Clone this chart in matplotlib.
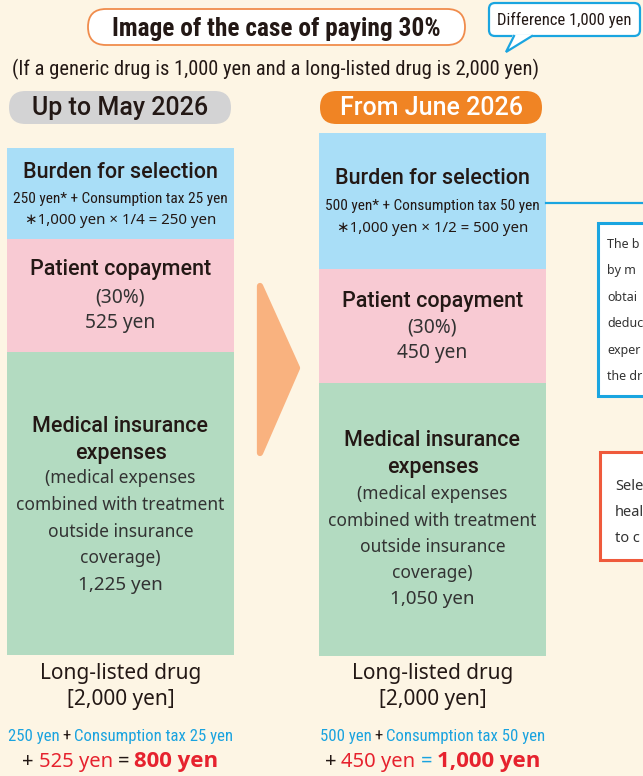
import os
import matplotlib
matplotlib.use('Agg')
import matplotlib.pyplot as plt
from matplotlib.patches import FancyBboxPatch, Rectangle, Polygon
from matplotlib import font_manager as fm

# ---------------- data ----------------
periods = ['Up to May 2026', 'From June 2026']
selection_fee = [250, 500]
consumption_tax = [25, 50]
copayment = [525, 450]
insurance = [1225, 1050]
fraction_labels = ['1/4', '1/2']
generic_price = 1000
long_listed_price = 2000
patient_total = [800, 1000]
copay_rate = 30
difference = 1000
note_blue = ['The b', 'by m', 'obtai', 'deduc', 'exper', 'the dr']
note_red = ['Sele', 'heal', 'to c']

# ---------------- style ----------------
BG = '#FDF5E4'
C_BLUE = '#A9DEF7'
C_PINK = '#F8CAD3'
C_GREEN = '#B3DBC1'
C_ARROW = '#F9B27F'
C_ORANGE = '#F08424'
C_GREY = '#D3D3D4'
C_LINE = '#1AA5E0'
C_TBLUE = '#1AA3DF'
C_RED = '#E6222E'
C_DARK = '#231815'
C_TXT = '#333333'


def font_file(fam, weight='normal'):
    try:
        return fm.findfont(fm.FontProperties(family=fam, weight=weight), fallback_to_default=False)
    except Exception:
        return None


def pick(cands, weight='normal', keys=None):
    for c in cands:
        f = font_file(c, weight)
        if f is None:
            continue
        if keys is None or any(k in os.path.basename(f).lower() for k in keys):
            return c
    return None


def pick_narrow():
    for c in ['Liberation Sans Narrow', 'Roboto Condensed', 'Open Sans Condensed']:
        f = font_file(c)
        if f and ('narrow' in f.lower() or 'condensed' in f.lower()):
            return c
    return 'Liberation Sans Narrow'


NARROW = [pick_narrow(), 'DejaVu Sans']
SANS = [pick(['Noto Sans', 'Open Sans', 'Lato', 'Roboto']) or 'DejaVu Sans', 'DejaVu Sans']
BOLD = [pick(['Noto Sans', 'Open Sans', 'Lato', 'Roboto', 'Inter'], 'bold', ['bold']) or 'DejaVu Sans',
        'DejaVu Sans']
_med = pick(['Noto Sans', 'Open Sans', 'Roboto', 'Inter', 'Lato'], 'medium', ['medium', 'semibold'])
if _med:
    MED, MED_W = [_med, 'DejaVu Sans'], 'medium'
else:
    MED, MED_W = BOLD, 'bold'

fig = plt.figure(figsize=(6.43, 7.76), dpi=100, facecolor=BG)
ax = fig.add_axes([0, 0, 1, 1])
ax.set_xlim(0, 643)
ax.set_ylim(776, 0)
ax.axis('off')
ax.set_facecolor(BG)


def fmt(v):
    return f'{v:,}'


# ---------------- header ----------------
ax.add_patch(FancyBboxPatch((88, 9), 377, 36, boxstyle='round,pad=0,rounding_size=18',
                            fc='white', ec='#F08C4C', lw=1.3))
ax.text(276, 29, f'Image of the case of paying {copay_rate}%', ha='center', va='center',
        family=NARROW, fontsize=18.3, weight='bold', color=C_DARK)

# callout
ax.add_patch(FancyBboxPatch((489, 3), 151, 33, boxstyle='round,pad=0,rounding_size=6',
                            fc='white', ec=C_LINE, lw=1.6))
ax.add_patch(Polygon([(513, 34.5), (534, 34.5), (506, 52)], closed=True, fc='white', ec='none'))
ax.plot([514, 506, 532], [36, 52, 36], color=C_LINE, lw=1.6, solid_joinstyle='miter')
ax.text(564, 19.5, f'Difference {fmt(difference)} yen', ha='center', va='center',
        family=NARROW, fontsize=12, color=C_DARK)

ax.text(276, 69, f'(If a generic drug is {fmt(generic_price)} yen and a long-listed drug is '
        f'{fmt(long_listed_price)} yen)', ha='center', va='center', family=NARROW,
        fontsize=14.8, color=C_DARK)

# period pills
pill_x = [9, 320]
pill_fc = [C_GREY, C_ORANGE]
pill_tc = [C_DARK, 'white']
for i in range(2):
    ax.add_patch(FancyBboxPatch((pill_x[i], 91), 222, 33, boxstyle='round,pad=0,rounding_size=16.5',
                                fc=pill_fc[i], ec='none'))
    ax.text(pill_x[i] + 111, 108, periods[i], ha='center', va='center', family=MED,
            weight=MED_W, fontsize=18, color=pill_tc[i])

# ---------------- stacked bars ----------------
bar_cx = [120.5, 432.5]
bar_w = 227
seg_edges = [[148, 239, 352, 655], [133, 269, 383, 656]]
seg_colors = [C_BLUE, C_PINK, C_GREEN]
for i in range(2):
    e = seg_edges[i]
    for k in range(3):
        ax.bar(bar_cx[i], e[k + 1] - e[k], bottom=e[k], width=bar_w, color=seg_colors[k],
               edgecolor='none', align='center')

# text inside bars
blue_y = [[172, 199, 221], [179, 206, 229]]
pink_y = [[270, 297, 323], [302, 328, 353]]
green_y = [[426, 453, 478, 505, 532, 558, 585], [441, 467, 494, 521, 547, 573, 599]]
LBL = 15.5
for i in range(2):
    cx = bar_cx[i]
    by = blue_y[i]
    ax.text(cx, by[0], 'Burden for selection', ha='center', va='center', family=MED,
            fontsize=LBL, weight=MED_W, color=C_DARK)
    ax.text(cx, by[1], f'{selection_fee[i]} yen* + Consumption tax {consumption_tax[i]} yen',
            ha='center', va='center', family=NARROW, fontsize=11.1, color=C_DARK)
    ax.text(cx, by[2], f'\u2217{fmt(generic_price)} yen \u00d7 {fraction_labels[i]} = {selection_fee[i]} yen',
            ha='center', va='center', family=SANS, fontsize=10.8, color=C_DARK)
    py = pink_y[i]
    ax.text(cx, py[0], 'Patient copayment', ha='center', va='center', family=MED,
            fontsize=LBL, weight=MED_W, color=C_DARK)
    ax.text(cx, py[1], f'({copay_rate}%)', ha='center', va='center', family=SANS,
            fontsize=13.8, color=C_TXT)
    ax.text(cx, py[2], f'{copayment[i]} yen', ha='center', va='center', family=SANS,
            fontsize=13.8, color=C_TXT)
    gy = green_y[i]
    lines = [('Medical insurance', 'b'), ('expenses', 'b'), ('(medical expenses', 'r'),
             ('combined with treatment', 'r'), ('outside insurance', 'r'),
             ('coverage)', 'r'), (f'{fmt(insurance[i])} yen', 'v')]
    for (t, kind), y in zip(lines, gy):
        if kind == 'b':
            ax.text(cx, y, t, ha='center', va='center', family=MED, fontsize=LBL,
                    weight=MED_W, color=C_DARK)
        else:
            ax.text(cx, y, t, ha='center', va='center', family=SANS,
                    fontsize=13.5 if kind == 'v' else 12.5, color=C_TXT)

# arrow between bars
ax.add_patch(Polygon([(260, 286), (297, 368), (260, 453)], closed=True, fc=C_ARROW,
                     ec=C_ARROW, lw=4.5, joinstyle='round'))

# ---------------- side notes (cut by the page edge) ----------------
ax.plot([546, 643], [203, 203], color=C_LINE, lw=1.6)
ax.add_patch(Rectangle((598, 223), 80, 173, fc='white', ec=C_LINE, lw=2.2))
for j, t in enumerate(note_blue):
    ax.text(607, 244 + j * 26.6, t, ha='left', va='center', family=SANS,
            fontsize=9.0, color=C_TXT)
ax.add_patch(Rectangle((600, 452), 80, 108, fc='white', ec='#EF5A3C', lw=2.2))
for j, t in enumerate(note_red):
    ax.text(615, 487 + j * 25.5, t, ha='left', va='center', family=SANS,
            fontsize=10.5, color=C_TXT)

# ---------------- bottom labels ----------------
for i in range(2):
    ax.text(bar_cx[i], 673, 'Long-listed drug', ha='center', va='center', family=SANS,
            fontsize=15, color=C_DARK)
    ax.text(bar_cx[i], 699, f'[{fmt(long_listed_price)} yen]', ha='center', va='center',
            family=SANS, fontsize=15, color=C_DARK)

fig.canvas.draw()
renderer = fig.canvas.get_renderer()


def rich_line(cx, y, pieces, gap=4):
    texts = []
    for (s, col, fam, size, w) in pieces:
        texts.append(ax.text(0, y, s, ha='left', va='baseline', family=fam, fontsize=size,
                             weight=w, color=col))
    widths = [t.get_window_extent(renderer).width for t in texts]
    total = sum(widths) + gap * (len(texts) - 1)
    x = cx - total / 2
    for t, wd in zip(texts, widths):
        t.set_x(x)
        x += wd + gap


eq_col = [C_DARK, C_TBLUE]
for i in range(2):
    rich_line(bar_cx[i], 741, [
        (f'{selection_fee[i]} yen', C_TBLUE, NARROW, 12.1, 'normal'),
        ('+', C_DARK, NARROW, 12.1, 'normal'),
        (f'Consumption tax {consumption_tax[i]} yen', C_TBLUE, NARROW, 12.1, 'normal'),
    ], gap=3)
    rich_line(bar_cx[i], 767, [
        ('+', C_DARK, SANS, 14.5, 'normal'),
        (f'{copayment[i]} yen', C_RED, SANS, 14.5, 'normal'),
        ('=', eq_col[i], SANS, 14.5, 'normal'),
        (f'{fmt(patient_total[i])} yen', C_RED, BOLD, 16, 'bold'),
    ], gap=5)

fig.savefig('out.png', dpi=100, facecolor=BG)
